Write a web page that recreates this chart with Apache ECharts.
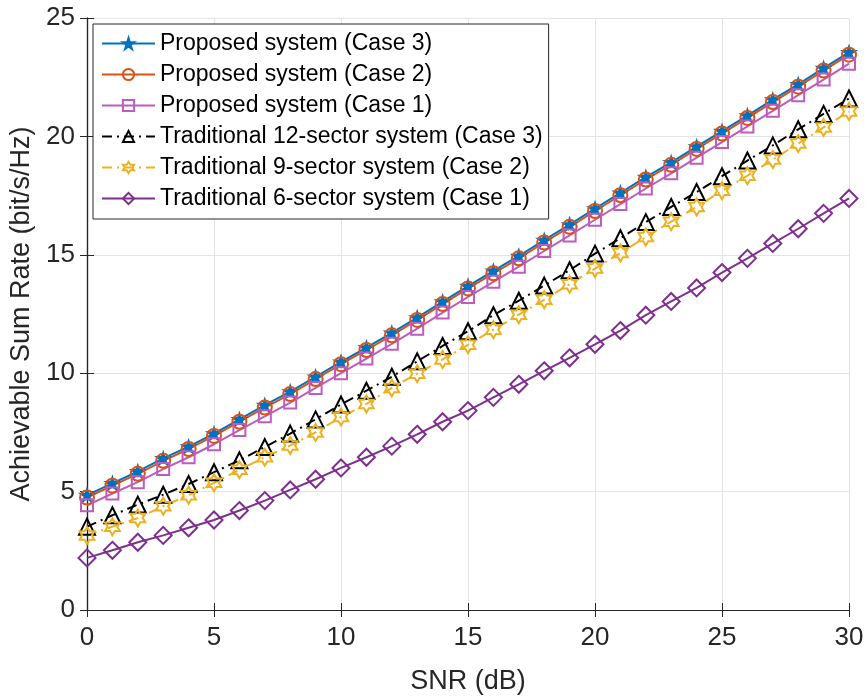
<!DOCTYPE html>
<html>
<head>
<meta charset="utf-8">
<script src="https://cdn.jsdelivr.net/npm/echarts@6/dist/echarts.min.js"></script>
<style>
html,body{margin:0;padding:0;background:#fff;}
#chart{width:867px;height:700px;}
</style>
</head>
<body>
<div id="chart"></div>
<script>
const snr = [0,1,2,3,4,5,6,7,8,9,10,11,12,13,14,15,16,17,18,19,20,21,22,23,24,25,26,27,28,29,30];
const xTicks = [0,5,10,15,20,25,30];
const yTicks = [0,5,10,15,20,25];
const proposedCase3 = [4.85,5.35,5.85,6.4,6.9,7.45,8.05,8.65,9.22,9.85,10.48,11.08,11.7,12.35,13.02,13.68,14.32,14.95,15.62,16.28,16.95,17.62,18.28,18.9,19.57,20.22,20.88,21.55,22.2,22.88,23.55];
const proposedCase2 = [4.75,5.25,5.75,6.3,6.8,7.35,7.95,8.55,9.12,9.75,10.38,10.98,11.6,12.25,12.92,13.58,14.22,14.85,15.52,16.18,16.85,17.52,18.18,18.8,19.47,20.12,20.78,21.45,22.1,22.78,23.45];
const proposedCase1 = [4.42,4.92,5.4,5.95,6.45,7.0,7.6,8.18,8.76,9.38,10.0,10.62,11.24,11.88,12.56,13.22,13.86,14.5,15.16,15.82,16.48,17.14,17.8,18.44,19.1,19.76,20.42,21.08,21.74,22.4,23.07];
const trad12Case3 = [3.52,4.0,4.45,4.87,5.32,5.82,6.32,6.88,7.45,8.05,8.68,9.26,9.85,10.5,11.15,11.77,12.45,13.06,13.7,14.35,15.05,15.7,16.38,17.02,17.65,18.32,18.98,19.62,20.3,20.95,21.6];
const trad9Case2 = [3.15,3.52,3.88,4.38,4.85,5.37,5.92,6.45,6.95,7.5,8.15,8.7,9.38,9.98,10.58,11.2,11.84,12.47,13.1,13.76,14.42,15.08,15.75,16.4,17.02,17.7,18.34,19.02,19.7,20.38,21.05];
const trad6Case1 = [2.2,2.52,2.86,3.15,3.47,3.8,4.2,4.62,5.07,5.52,6.0,6.45,6.92,7.42,7.95,8.42,8.98,9.53,10.1,10.65,11.22,11.8,12.45,13.03,13.6,14.25,14.85,15.48,16.1,16.75,17.38];
const names = [
  'Proposed system (Case 3)',
  'Proposed system (Case 2)',
  'Proposed system (Case 1)',
  'Traditional 12-sector system (Case 3)',
  'Traditional 9-sector system (Case 2)',
  'Traditional 6-sector system (Case 1)'
];

const pentagram = 'path://M0,-10 L2.245,-3.09 L9.51,-3.09 L3.633,1.18 L5.878,8.09 L0,3.82 L-5.878,8.09 L-3.633,1.18 L-9.51,-3.09 L-2.245,-3.09 Z';
const hexagram = 'path://M0,-10 L2.887,-5 L8.66,-5 L5.774,0 L8.66,5 L2.887,5 L0,10 L-2.887,5 L-8.66,5 L-5.774,0 L-8.66,-5 L-2.887,-5 Z';
const axisColor = '#262626';
const font = 'Liberation Sans, Arial, Helvetica, sans-serif';

function pairs(ys){ return snr.map((x,i)=>[x, ys[i]]); }
function mk(name, ys, color, symbol, size, dash, filled){
  return {
    name: name, type: 'line', data: pairs(ys),
    symbol: symbol, symbolSize: size, symbolKeepAspect: true,
    showSymbol: true,
    lineStyle: {color: color, width: 2, type: dash || 'solid'},
    itemStyle: {color: filled ? color : 'rgba(255,255,255,0)', borderColor: color, borderWidth: 2},
    emphasis: {disabled: true},
    animation: false
  };
}

const chart = echarts.init(document.getElementById('chart'), null, {renderer: 'canvas'});
const option = {
  backgroundColor: '#fff',
  animation: false,
  grid: {left: 87, right: 18, top: 18, bottom: 86, containLabel: false},
  legend: {
    show: true,
    orient: 'vertical',
    left: 93, top: 24,
    backgroundColor: '#fff',
    borderColor: axisColor, borderWidth: 1,
    padding: [8, 6, 9, 8],
    itemWidth: 53, itemHeight: 14, itemGap: 8,
    textStyle: {fontFamily: font, fontSize: 23, color: '#000', lineHeight: 22},
    data: names
  },
  xAxis: [{
    type: 'value', min: 0, max: 30, interval: 5,
    name: 'SNR (dB)', nameLocation: 'middle', nameGap: 58,
    nameTextStyle: {fontFamily: font, fontSize: 27, color: axisColor},
    axisLine: {show: true, lineStyle: {color: axisColor, width: 1.2}},
    axisTick: {show: true, inside: true, length: 7, lineStyle: {color: axisColor}},
    axisLabel: {fontFamily: font, fontSize: 26, color: axisColor, margin: 15},
    splitLine: {show: true, lineStyle: {color: '#e3e3e3', width: 1}}
  }, {
    type: 'value', min: 0, max: 30, interval: 5, position: 'top',
    axisLine: {show: true, lineStyle: {color: axisColor, width: 1.2}},
    axisTick: {show: true, inside: true, length: 7, lineStyle: {color: axisColor}},
    axisLabel: {show: false}, splitLine: {show: false}
  }],
  yAxis: [{
    type: 'value', min: 0, max: 25, interval: 5,
    name: 'Achievable Sum Rate (bit/s/Hz)', nameLocation: 'middle', nameGap: 52,
    nameTextStyle: {fontFamily: font, fontSize: 27, color: axisColor},
    axisLine: {show: true, lineStyle: {color: axisColor, width: 1.2}},
    axisTick: {show: true, inside: true, length: 7, lineStyle: {color: axisColor}},
    axisLabel: {fontFamily: font, fontSize: 26, color: axisColor, margin: 12},
    splitLine: {show: true, lineStyle: {color: '#e3e3e3', width: 1}}
  }, {
    type: 'value', min: 0, max: 25, interval: 5, position: 'right',
    axisLine: {show: true, lineStyle: {color: axisColor, width: 1.2}},
    axisTick: {show: true, inside: true, length: 7, lineStyle: {color: axisColor}},
    axisLabel: {show: false}, splitLine: {show: false}
  }],
  series: [
    mk(names[0], proposedCase3, '#0072BD', pentagram, 12, 'solid', true),
    mk(names[1], proposedCase2, '#D95319', 'circle', 14, 'solid', false),
    mk(names[2], proposedCase1, '#BD5CBD', 'rect', 12, 'solid', false),
    mk(names[3], trad12Case3, '#000000', 'triangle', 16, [10, 5, 2, 5], false),
    mk(names[4], trad9Case2, '#EDB120', hexagram, 17, [10, 5, 2, 5], false),
    mk(names[5], trad6Case1, '#7E2F8E', 'diamond', 17, 'solid', false)
  ]
};
chart.setOption(option);
</script>
</body>
</html>
